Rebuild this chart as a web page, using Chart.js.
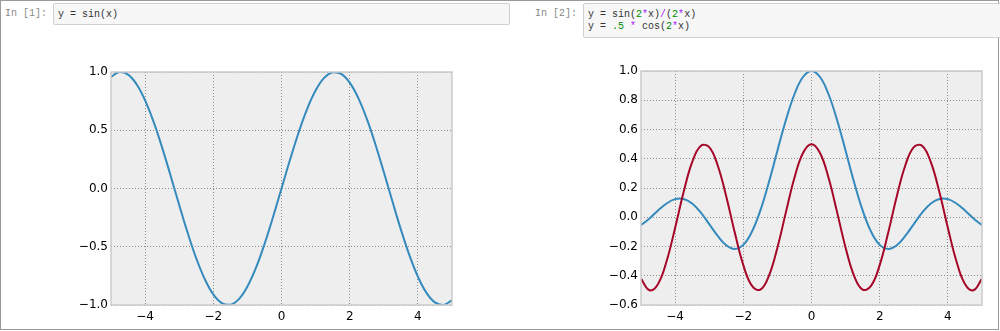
<!DOCTYPE html>
<html>
<head>
<meta charset="utf-8">
<script src="https://cdn.jsdelivr.net/npm/chart.js@4"></script>
<style>
  body { margin: 0; width: 1000px; height: 331px; background: #fff; overflow: hidden; position: relative; }
  .frame { position: absolute; left: 0; top: 0; width: 997px; height: 328px; border: 1px solid #9a9a9a; }
  .prompt { position: absolute; top: 8px; font: 10px "Liberation Mono", "DejaVu Sans Mono", monospace; color: #888; }
  .cell { position: absolute; top: 3px; background: #f7f7f7; border: 1px solid #cfcfcf; border-radius: 2px;
          font: 10px "Liberation Mono", "DejaVu Sans Mono", monospace; color: #333; line-height: 12px;
          padding: 5px 4px; box-sizing: border-box; white-space: pre; }
  .n { color: #080; }
  .o { color: #a2f; }
  .box { position: absolute; }
</style>
</head>
<body>
<div class="frame"></div>
<div class="prompt" style="left:5px">In [1]:</div>
<div class="cell" style="left:53px;width:457px;height:22px">y = sin(x)</div>
<div class="prompt" style="left:535px">In [2]:</div>
<div class="cell" style="left:583px;width:420px;height:35px">y = sin(<span class="n">2</span><span class="o">*</span>x)<span class="o">/</span>(<span class="n">2</span><span class="o">*</span>x)
y = <span class="n">.5</span> <span class="o">*</span> cos(<span class="n">2</span><span class="o">*</span>x)</div>

<div class="box" style="left:50px;top:60px"><canvas id="left" width="420" height="265"></canvas></div>
<div class="box" style="left:580px;top:58px"><canvas id="right" width="420" height="267"></canvas></div>

<script>
const xValues = [-5, -4.75, -4.5, -4.25, -4, -3.75, -3.5, -3.25, -3, -2.75, -2.5, -2.25, -2, -1.75, -1.5, -1.25, -1, -0.75, -0.5, -0.25,
  0, 0.25, 0.5, 0.75, 1, 1.25, 1.5, 1.75, 2, 2.25, 2.5, 2.75, 3, 3.25, 3.5, 3.75, 4, 4.25, 4.5, 4.75, 5];

// left: y = sin(x)
const sinValues = [0.959, 0.999, 0.978, 0.895, 0.757, 0.572, 0.351, 0.108, -0.141, -0.382, -0.599, -0.778, -0.909, -0.984, -0.998, -0.949, -0.841, -0.682, -0.479, -0.247,
  0, 0.247, 0.479, 0.682, 0.841, 0.949, 0.998, 0.984, 0.909, 0.778, 0.599, 0.382, 0.141, -0.108, -0.351, -0.572, -0.757, -0.895, -0.978, -0.999, -0.959];

// right: y = sin(2x)/(2x) and y = .5*cos(2x)
const sincValues = [-0.054, -0.008, 0.046, 0.094, 0.124, 0.125, 0.094, 0.033, -0.047, -0.128, -0.192, -0.217, -0.189, -0.100, 0.047, 0.239, 0.455, 0.665, 0.841, 0.959,
  1, 0.959, 0.841, 0.665, 0.455, 0.239, 0.047, -0.100, -0.189, -0.217, -0.192, -0.128, -0.047, 0.033, 0.094, 0.125, 0.124, 0.094, 0.046, -0.008, -0.054];
const cosValues = [-0.420, -0.499, -0.456, -0.301, -0.073, 0.173, 0.377, 0.488, 0.480, 0.354, 0.142, -0.105, -0.327, -0.468, -0.495, -0.401, -0.208, 0.035, 0.270, 0.439,
  0.5, 0.439, 0.270, 0.035, -0.208, -0.401, -0.495, -0.468, -0.327, -0.105, 0.142, 0.354, 0.480, 0.488, 0.377, 0.173, -0.073, -0.301, -0.456, -0.499, -0.420];

const xTicks = [-4, -2, 0, 2, 4];
const leftYTicks = [-1, -0.5, 0, 0.5, 1];
const rightYTicks = [-0.6, -0.4, -0.2, 0, 0.2, 0.4, 0.6, 0.8, 1.0];

const BLUE = '#348abd';
const RED = '#a60628';

const toPoints = ys => ys.map((y, i) => ({ x: xValues[i], y: y }));
const fmt = (v, digits) => v.toFixed(digits).replace('-', '\u2212');

// grey plot background under the grid, light spines on top
const panel = {
  id: 'panel',
  beforeDraw(chart) {
    const { ctx, chartArea: a } = chart;
    if (!a) return;
    ctx.save();
    ctx.fillStyle = '#eeeeee';
    ctx.fillRect(a.left, a.top, a.right - a.left, a.bottom - a.top);
    ctx.restore();
  },
  afterDraw(chart) {
    const { ctx, chartArea: a } = chart;
    ctx.save();
    ctx.strokeStyle = '#cccccc';
    ctx.lineWidth = 1.5;
    ctx.strokeRect(a.left, a.top, a.right - a.left, a.bottom - a.top);
    ctx.restore();
  }
};

function makeChart(id, datasets, yTicks, yMin, yMax, yDigits, padTop) {
  const font = { family: 'DejaVu Sans', size: 12 };
  return new Chart(document.getElementById(id), {
    type: 'line',
    data: { datasets: datasets },
    options: {
      responsive: false,
      animation: false,
      devicePixelRatio: 1,
      layout: { padding: { top: padTop, right: 18, left: 0, bottom: 0 } },
      plugins: { legend: { display: false }, tooltip: { enabled: false } },
      elements: { point: { radius: 0 }, line: { borderWidth: 2, tension: 0.4 } },
      scales: {
        x: {
          type: 'linear', min: -5, max: 5,
          afterBuildTicks: s => { s.ticks = xTicks.map(v => ({ value: v })); },
          afterFit: s => { s.height = 20; },
          grid: { color: '#8c8c8c', lineWidth: 1, drawTicks: false },
          border: { display: false, dash: [1, 2] },
          ticks: { font: font, color: '#000', padding: 5, maxRotation: 0, callback: v => fmt(v, 0) }
        },
        y: {
          min: yMin, max: yMax,
          afterBuildTicks: s => { s.ticks = yTicks.map(v => ({ value: v })); },
          afterFit: s => { s.width = 61; },
          grid: { color: '#8c8c8c', lineWidth: 1, drawTicks: false },
          border: { display: false, dash: [1, 2] },
          ticks: { font: font, color: '#000', padding: 3, callback: v => fmt(v, yDigits) }
        }
      }
    },
    plugins: [panel]
  });
}

makeChart('left', [
  { data: toPoints(sinValues), borderColor: BLUE }
], leftYTicks, -1, 1, 1, 12);

makeChart('right', [
  { data: toPoints(cosValues), borderColor: RED, order: 0 },
  { data: toPoints(sincValues), borderColor: BLUE, order: 1 }
], rightYTicks, -0.6, 1.0, 1, 13);
</script>
</body>
</html>
